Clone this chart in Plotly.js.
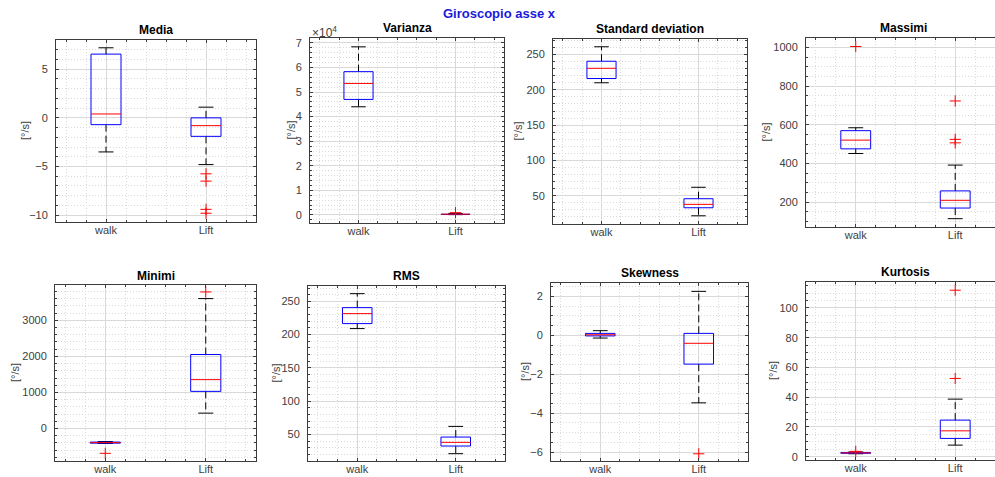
<!DOCTYPE html>
<html>
<head>
<meta charset="utf-8">
<script src="https://cdn.plot.ly/plotly-3.0.1.min.js"></script>
<style>
  html, body { margin: 0; padding: 0; background: #ffffff; }
  #chart { width: 995px; height: 477px; }
</style>
</head>
<body>
<div id="chart"></div>
<script>
// Gyroscope, x axis: per-feature box summaries for "walk" and "Lift".
const categories = ['walk', 'Lift'];

// Each summary: [lower whisker, Q1, median, Q3, upper whisker]
const mediaWalk = [-3.5, -0.7, 0.4, 6.55, 7.2];
const mediaLift = [-4.8, -1.9, -0.8, 0.0, 1.1];
const mediaLiftOut = [-5.75, -6.5, -9.4, -9.8];

const varianzaWalk = [44000, 47000, 53500, 58300, 68400];
const varianzaLift = [100, 200, 300, 400, 600];
const varianzaLiftOut = [900];

const stdWalk = [210, 216, 230.5, 240.5, 261];
const stdLift = [21.6, 33, 37.8, 45.8, 62];

const massimiWalk = [452, 476, 521, 570, 585];
const massimiWalkOut = [1005];
const massimiLift = [115, 170, 210, 258.6, 392];
const massimiLiftOut = [723.6, 525, 507];

const minimiWalk = [-415, -405, -390, -375, -360];
const minimiWalkOut = [-687];
const minimiLift = [427, 1031, 1356, 2052, 3603];
const minimiLiftOut = [3788];

const rmsWalk = [209, 216.5, 231.5, 240.5, 261.5];
const rmsLift = [21, 32.5, 38, 46, 62];

const skewWalk = [-0.14, -0.03, 0.03, 0.1, 0.24];
const skewLift = [-3.47, -1.48, -0.41, 0.1, 2.26];
const skewLiftOut = [-6.09];

const kurtWalk = [2.0, 2.3, 2.6, 2.9, 3.2];
const kurtWalkOut = [3.6];
const kurtLift = [7.8, 12.3, 17.4, 24.6, 38.7];
const kurtLiftOut = [52.6, 111.9];

const unitLabel = '[°/s]';

// Panel layout (pixel boxes in a 995 x 477 figure)
const W = 995, H = 477;
const panels = [
  { title: 'Media', walk: mediaWalk, lift: mediaLift, walkOut: [], liftOut: mediaLiftOut,
    yr: [-10.7, 8.0], dtick: 5, minor: 1, px: [56, 256], py: [40, 222], xr: 2.5, ytx: 25, tty: 30 },
  { title: 'Varianza', walk: varianzaWalk, lift: varianzaLift, walkOut: [], liftOut: varianzaLiftOut,
    yr: [-3300, 72000], dtick: 10000, minor: 2000, scale: 10000, px: [310, 504], py: [38, 223], xr: 2.5, ytx: 290, tty: 28 },
  { title: 'Standard deviation', walk: stdWalk, lift: stdLift, walkOut: [], liftOut: [],
    yr: [10, 272], dtick: 50, minor: 10, px: [553, 747], py: [39, 224], xr: 2.5, ytx: 517, tty: 29 },
  { title: 'Massimi', walk: massimiWalk, lift: massimiLift, walkOut: massimiWalkOut, liftOut: massimiLiftOut,
    yr: [72, 1049], dtick: 200, minor: 50, px: [806, 995], py: [38, 227], xr: 2.4, ytx: 765, tty: 28, tc: 903 },
  { title: 'Minimi', walk: minimiWalk, lift: minimiLift, walkOut: minimiWalkOut, liftOut: minimiLiftOut,
    yr: [-900, 3980], dtick: 1000, minor: 200, px: [55, 256], py: [285, 461], xr: 2.5, ytx: 15, tty: 276 },
  { title: 'RMS', walk: rmsWalk, lift: rmsLift, walkOut: [], liftOut: [],
    yr: [10, 273], dtick: 50, minor: 10, px: [308, 505], py: [286, 461], xr: 2.5, ytx: 275, tty: 276 },
  { title: 'Skewness', walk: skewWalk, lift: skewLift, walkOut: [], liftOut: skewLiftOut,
    yr: [-6.46, 2.69], dtick: 2, minor: 0.5, px: [551, 748], py: [283, 461], xr: 2.5, ytx: 525, tty: 273 },
  { title: 'Kurtosis', walk: kurtWalk, lift: kurtLift, walkOut: kurtWalkOut, liftOut: kurtLiftOut,
    yr: [-2.2, 117.4], dtick: 20, minor: 5, px: [806, 995], py: [282, 460], xr: 2.4, ytx: 773, tty: 272, tc: 905 }
];

const FRAME = '#3c3c3c';
const GRID = '#d9d9d9';
const MINOR_GRID = '#dadada';
const MINOR_DASH = '1px,2px';
const FONT = 'Liberation Sans, Arial, Helvetica, sans-serif';
const HW = 0.15;   // half box width (category units)
const CW = 0.075;  // half whisker-cap width

const traces = [];
const layout = {
  width: W, height: H,
  margin: { l: 0, r: 0, t: 0, b: 0 },
  paper_bgcolor: '#ffffff',
  plot_bgcolor: '#ffffff',
  showlegend: false,
  font: { family: FONT, size: 11, color: '#404040' },
  annotations: [
    { text: '<b>Giroscopio asse x</b>', xref: 'paper', yref: 'paper', x: 500 / W, y: 1 - 13 / H,
      xanchor: 'center', yanchor: 'middle', showarrow: false,
      font: { family: FONT, size: 13, color: '#1a1adb' } }
  ]
};

function addBox(xa, ya, c, s, outs) {
  const [lo, q1, med, q3, hi] = s;
  const common = { xaxis: xa, yaxis: ya, mode: 'lines', hoverinfo: 'skip', showlegend: false };
  traces.push(Object.assign({}, common, {
    x: [c, c, null, c, c], y: [q3, hi, null, q1, lo],
    line: { color: '#000000', width: 1, dash: '7px,4px' }
  }));
  traces.push(Object.assign({}, common, {
    x: [c - CW, c + CW, null, c - CW, c + CW], y: [hi, hi, null, lo, lo],
    line: { color: '#000000', width: 1 }
  }));
  traces.push(Object.assign({}, common, {
    x: [c - HW, c + HW, c + HW, c - HW, c - HW], y: [q1, q1, q3, q3, q1],
    line: { color: '#0000ff', width: 1 }
  }));
  traces.push(Object.assign({}, common, {
    x: [c - HW, c + HW], y: [med, med],
    line: { color: '#ff0000', width: 1 }
  }));
  if (outs.length) {
    traces.push({
      xaxis: xa, yaxis: ya, mode: 'markers', hoverinfo: 'skip', showlegend: false,
      x: outs.map(() => c), y: outs,
      marker: { symbol: 'cross-thin-open', size: 8, color: '#ff0000', line: { color: '#ff0000', width: 1 } }
    });
  }
}

// minor grid positions between and around the two categories
const xMinor = [0.6, 0.8, 1.2, 1.4, 1.6, 1.8, 2.2, 2.4];

panels.forEach((p, i) => {
  const n = i + 1;
  const xa = 'x' + (n === 1 ? '' : n);
  const ya = 'y' + (n === 1 ? '' : n);
  const xKey = 'xaxis' + (n === 1 ? '' : n);
  const yKey = 'yaxis' + (n === 1 ? '' : n);

  addBox(xa, ya, 1, p.walk, p.walkOut);
  addBox(xa, ya, 2, p.lift, p.liftOut);

  const clipped = p.px[1] >= W;

  layout[xKey] = {
    domain: [p.px[0] / W, Math.min(p.px[1], W) / W],
    anchor: ya,
    range: [0.5, p.xr],
    tickmode: 'array', tickvals: [1, 2], ticktext: categories,
    showgrid: true, gridcolor: GRID, gridwidth: 1, zeroline: false,
    showline: true, linecolor: FRAME, linewidth: 1, mirror: 'ticks',
    ticks: 'inside', ticklen: 3, tickcolor: FRAME,
    ticklabelstandoff: -2,
    tickfont: { family: FONT, size: 11, color: '#404040' },
    minor: { tickmode: 'array', tickvals: xMinor, showgrid: true, gridcolor: MINOR_GRID,
             griddash: MINOR_DASH, gridwidth: 1, ticks: 'inside', ticklen: 2, tickcolor: FRAME },
    fixedrange: true
  };

  const yAxis = {
    domain: [1 - p.py[1] / H, 1 - p.py[0] / H],
    anchor: xa,
    range: p.yr,
    showgrid: true, gridcolor: GRID, gridwidth: 1, zeroline: false,
    showline: true, linecolor: FRAME, linewidth: 1, mirror: clipped ? false : 'ticks',
    ticks: 'inside', ticklen: 3, tickcolor: FRAME,
    ticklabelstandoff: 5,
    tickfont: { family: FONT, size: 11, color: '#404040' },
    minor: { tickmode: 'linear', tick0: 0, dtick: p.minor, showgrid: true, gridcolor: MINOR_GRID,
             griddash: MINOR_DASH, gridwidth: 1, ticks: 'inside', ticklen: 2, tickcolor: FRAME },
    fixedrange: true
  };
  if (p.scale) {
    const vals = [], txt = [];
    for (let v = 0; v <= p.yr[1]; v += p.dtick) { vals.push(v); txt.push(String(v / p.scale)); }
    yAxis.tickmode = 'array'; yAxis.tickvals = vals; yAxis.ticktext = txt;
    layout.annotations.push({
      text: '×10<sup>4</sup>', xref: 'paper', yref: 'paper',
      x: p.px[0] / W, y: 1 - 32 / H, xanchor: 'left', yanchor: 'middle', showarrow: false,
      font: { family: FONT, size: 12, color: '#404040' }
    });
  } else {
    yAxis.tickmode = 'linear'; yAxis.tick0 = 0; yAxis.dtick = p.dtick;
  }
  layout[yKey] = yAxis;

  const tcx = p.tc !== undefined ? p.tc : (p.px[0] + p.px[1]) / 2;
  layout.annotations.push({
    text: '<b>' + p.title + '</b>', xref: 'paper', yref: 'paper',
    x: tcx / W, y: 1 - p.tty / H, xanchor: 'center', yanchor: 'middle', showarrow: false,
    font: { family: FONT, size: 12, color: '#000000' }
  });
  layout.annotations.push({
    text: unitLabel, xref: 'paper', yref: 'paper', textangle: -90,
    x: p.ytx / W, y: 1 - ((p.py[0] + p.py[1]) / 2) / H, xanchor: 'center', yanchor: 'middle',
    showarrow: false, font: { family: FONT, size: 11, color: '#404040' }
  });
});

Plotly.newPlot('chart', traces, layout, { displayModeBar: false, staticPlot: true });
</script>
</body>
</html>
